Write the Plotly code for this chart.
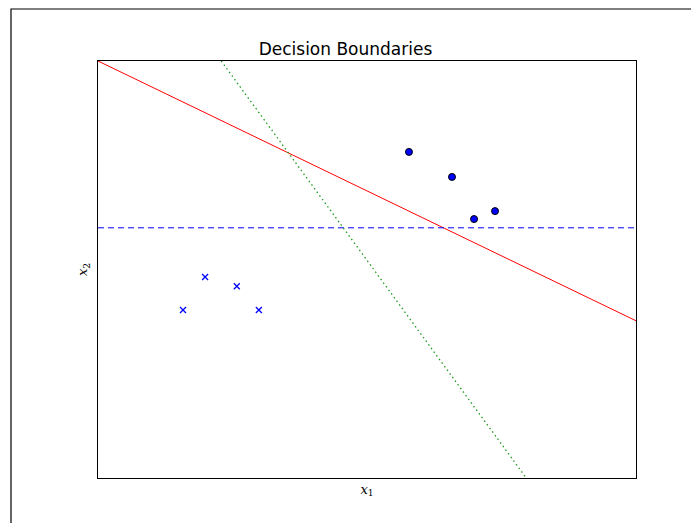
import plotly.graph_objects as go

# data
neg_x = [1.58, 1.99, 2.58, 2.99]
neg_y = [4.03, 4.82, 4.60, 4.03]
pos_x = [5.78, 6.58, 6.99, 7.38]
pos_y = [7.82, 7.22, 6.21, 6.40]

red_x = [0.0, 10.0]
red_y = [10.0, 3.77]
blue_x = [0.0, 10.0]
blue_y = [6.0, 6.0]
green_x = [2.29, 7.96]
green_y = [10.0, 0.0]

x_range = [0, 10]
y_range = [0, 10]

fig = go.Figure()
fig.add_trace(go.Scatter(x=red_x, y=red_y, mode="lines",
                         line=dict(color="red", width=1), showlegend=False))
fig.add_trace(go.Scatter(x=blue_x, y=blue_y, mode="lines",
                         line=dict(color="blue", width=1, dash="6px,4px"), showlegend=False))
fig.add_trace(go.Scatter(x=green_x, y=green_y, mode="lines",
                         line=dict(color="#1f9a1f", width=1.3, dash="1.5px,3px"), showlegend=False))
fig.add_trace(go.Scatter(x=neg_x, y=neg_y, mode="markers",
                         marker=dict(symbol="x-thin", size=6, color="blue",
                                     line=dict(color="blue", width=1.3)),
                         showlegend=False))
fig.add_trace(go.Scatter(x=pos_x, y=pos_y, mode="markers",
                         marker=dict(symbol="circle", size=7, color="blue",
                                     line=dict(color="black", width=1)),
                         showlegend=False))

axis_common = dict(showgrid=False, zeroline=False, showticklabels=False, ticks="",
                   showline=True, linecolor="black", linewidth=1, mirror=True)

fig.update_layout(
    width=691, height=523,
    margin=dict(l=98, r=55, t=61, b=45),
    paper_bgcolor="white", plot_bgcolor="white",
    title=dict(text="Decision Boundaries", x=0.5, xanchor="center",
               y=1 - 49 / 523, yanchor="middle",
               font=dict(family="DejaVu Sans", size=17, color="black")),
    xaxis=dict(range=x_range, title=dict(text="<i>x</i><sub>1</sub>", standoff=6,
               font=dict(family="DejaVu Serif", size=13, color="black")), **axis_common),
    yaxis=dict(range=y_range, title=dict(text="<i>x</i><sub>2</sub>", standoff=6,
               font=dict(family="DejaVu Serif", size=13, color="black")), **axis_common),
    shapes=[dict(type="rect", xref="paper", yref="paper",
                 x0=-87 / 538, x1=(691 - 98 + 10) / 538,
                 y0=-(523 - 478 + 10) / 417, y1=1 + 52 / 417,
                 line=dict(color="black", width=1.2), fillcolor="rgba(0,0,0,0)",
                 layer="below")],
)

fig.write_html("out.html", config={"displayModeBar": False},
               post_script="document.body.style.margin='0';document.body.style.padding='0';")
